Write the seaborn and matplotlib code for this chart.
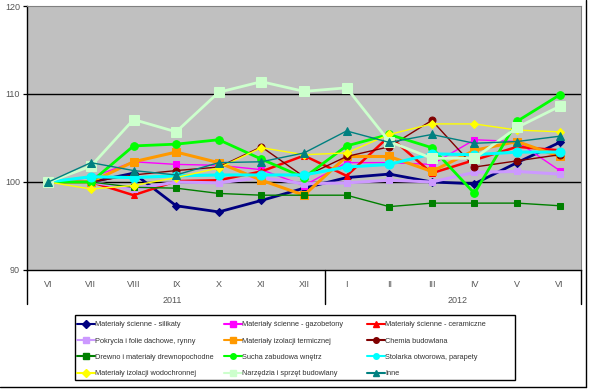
import numpy as np
import pandas as pd
import matplotlib
matplotlib.use("Agg")
import matplotlib.pyplot as plt
import seaborn as sns

# months (Jun 2011 - Jun 2012) and years
months = ["VI", "VII", "VIII", "IX", "X", "XI", "XII", "I", "II", "III", "IV", "V", "VI"]
years = ["2011", "2012"]

# price index series
silikaty = [100, 100.0, 101.0, 97.3, 96.6, 97.9, 99.3, 100.5, 100.9, 100.0, 99.8, 102.2, 104.5]
gazobetony = [100, 100.5, 102.3, 102.0, 101.9, 101.4, 99.6, 102.2, 102.2, 102.0, 104.8, 104.6, 101.3]
ceramiczne = [100, 100.0, 98.5, 100.1, 100.2, 101.2, 103.0, 100.7, 105.2, 101.0, 102.5, 104.0, 103.6]
pokrycia = [100, 100.0, 99.2, 100.0, 99.9, 100.5, 99.8, 99.9, 100.2, 100.0, 101.1, 101.2, 100.9]
izol_term = [100, 100.0, 102.3, 103.4, 102.2, 100.2, 98.5, 102.9, 102.9, 101.2, 103.6, 104.6, 102.9]
chemia = [100, 100.0, 100.8, 101.3, 101.7, 104.0, 100.6, 102.9, 104.0, 107.0, 101.7, 102.4, 103.1]
drewno = [100, 100.0, 99.4, 99.3, 98.7, 98.5, 98.5, 98.5, 97.2, 97.6, 97.6, 97.6, 97.3]
sucha = [100, 100.0, 104.1, 104.3, 104.8, 102.6, 100.5, 104.1, 105.4, 103.9, 98.7, 106.9, 109.9]
stolarka = [100, 100.6, 100.5, 100.7, 100.8, 100.8, 100.8, 101.7, 102.0, 103.2, 103.1, 103.4, 103.4]
izol_wod = [100, 99.2, 99.6, 100.5, 101.6, 103.9, 103.1, 103.3, 105.4, 106.6, 106.6, 105.9, 105.7]
narzedzia = [100, 101.8, 107.1, 105.7, 110.2, 111.4, 110.3, 110.7, 104.6, 102.7, 102.7, 106.2, 108.6]
inne = [100, 102.2, 101.3, 100.8, 102.2, 102.3, 103.3, 105.8, 104.5, 105.4, 104.4, 104.6, 105.2]

names = ["Materiały ścienne - silikaty", "Materiały ścienne - gazobetony", "Materiały ścienne - ceramiczne",
         "Pokrycia i folie dachowe, rynny", "Materiały izolacji termicznej", "Chemia budowlana",
         "Drewno i materiały drewnopochodne", "Sucha zabudowa wnętrz", "Stolarka otworowa, parapety",
         "Materiały izolacji wodochronnej", "Narzędzia i sprzęt budowlany", "Inne"]
series = [silikaty, gazobetony, ceramiczne, pokrycia, izol_term, chemia,
          drewno, sucha, stolarka, izol_wod, narzedzia, inne]

colors = ["#000080", "#FF00FF", "#FF0000", "#CC99FF", "#FF9900", "#800000",
          "#008000", "#00FF00", "#00FFFF", "#FFFF00", "#CCFFCC", "#008080"]
markers = ["D", "s", "^", "s", "s", "o", "s", "o", "o", "D", "s", "^"]
widths = [2.0, 1.0, 1.8, 2.2, 2.2, 1.0, 1.0, 2.0, 2.2, 1.0, 2.0, 1.0]
msizes = [4, 4.5, 4.5, 5, 6, 5, 5, 5.5, 6.5, 4, 6.5, 5.5]

sns.set_style("white")
plt.rcParams["font.family"] = ["Liberation Sans", "DejaVu Sans"]

x = np.arange(len(months))
df = pd.DataFrame({"x": np.tile(x, len(series)),
                   "value": np.concatenate(series),
                   "name": np.repeat(names, len(months))})

fig = plt.figure(figsize=(5.9, 3.9), dpi=100)
ax = fig.add_axes([27 / 590, 120 / 390, 554 / 590, 264 / 390])
ax.set_facecolor("#C0C0C0")

handles = []
for name, c, m, w, ms in zip(names, colors, markers, widths, msizes):
    sub = df[df["name"] == name]
    sns.lineplot(data=sub, x="x", y="value", color=c, marker=m, lw=w, markersize=ms,
                 markeredgecolor=c, ax=ax, legend=False)
    handles.append(plt.Line2D([], [], color=c, marker=m, lw=1.5, markersize=4, markeredgecolor=c))

ax.set_xlim(-0.5, len(months) - 0.5)
ax.set_ylim(90, 120)
ax.set_yticks([90, 100, 110, 120])
ax.axhline(100, color="black", lw=1, zorder=0.5)
ax.axhline(110, color="black", lw=1, zorder=0.5)
ax.set_xlabel("")
ax.set_ylabel("")

ax.set_xticks(x)
ax.set_xticklabels(months)
ax.set_xticks(np.arange(0.5, len(months) - 1, 1.0), minor=True)
ax.tick_params(axis="x", which="major", length=0, pad=7, labelsize=6.5, labelcolor="#555555")
ax.tick_params(axis="x", which="minor", length=13, width=0.9, color="black", direction="out")
ax.tick_params(axis="y", length=3, width=0.9, color="black", labelsize=6.5, labelcolor="#555555", pad=2,
               left=True)

for s in ["top", "right"]:
    ax.spines[s].set_color("#808080")
for s in ["left", "bottom"]:
    ax.spines[s].set_color("black")
    ax.spines[s].set_linewidth(1)

# long separators under the axis (year groups)
tr = ax.get_xaxis_transform()
for xb in [-0.5, 6.5, len(months) - 0.5]:
    ax.plot([xb, xb], [0, -0.13], color="black", lw=1, transform=tr, clip_on=False)
ax.text(2.9, -0.115, years[0], transform=tr, ha="center", va="center", fontsize=6.5, color="#555555")
ax.text(9.6, -0.115, years[1], transform=tr, ha="center", va="center", fontsize=6.5, color="#555555")

# legend: three fixed-width columns inside one box
fig.add_artist(plt.Rectangle((75 / 590, 10 / 390), 440 / 590, 65 / 390, transform=fig.transFigure,
                             fill=False, edgecolor="black", lw=1))
col_x = [77, 224, 367]
for k in range(3):
    idx = [k, k + 3, k + 6, k + 9]
    leg = fig.legend([handles[i] for i in idx], [names[i] for i in idx], ncol=1,
                     loc="upper left", bbox_to_anchor=(col_x[k] / 590, 69 / 390),
                     fontsize=5.3, frameon=False, handlelength=2.4, handletextpad=0.1,
                     labelspacing=1.25, borderaxespad=0, borderpad=0)
    for t in leg.get_texts():
        t.set_color("#333333")

# outer chart frame (right and bottom edges visible)
fig.add_artist(plt.Line2D([586 / 590, 586 / 590], [3 / 390, 1], color="black", lw=1))
fig.add_artist(plt.Line2D([0, 586 / 590], [3 / 390, 3 / 390], color="black", lw=1))

fig.savefig("out.png", dpi=100)
